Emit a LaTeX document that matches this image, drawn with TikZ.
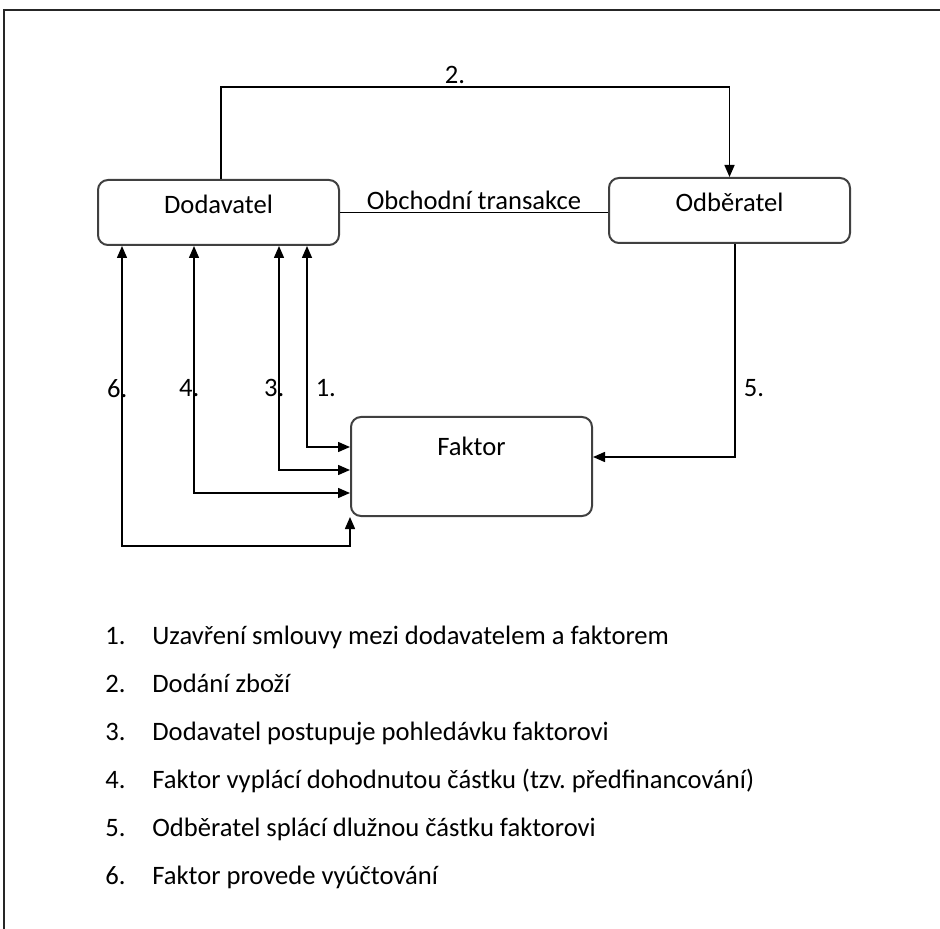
\documentclass[tikz,border=0pt]{standalone}
\usepackage{fontspec}
\setmainfont{Carlito}
\usepackage{tikz}
\usetikzlibrary{arrows.meta}
\frenchspacing

\begin{document}
\begin{tikzpicture}[x=0.5pt, y=-0.5pt, font=\fontsize{13.3pt}{16pt}\selectfont,
	party/.style = {draw=black!75, line width=1pt, rounded corners=5pt, inner sep=0pt,
		minimum width=120.5pt, minimum height=32.5pt, text height=9pt, text depth=8pt},
	flow/.style = {line width=0.75pt, -{Triangle[length=6pt, width=5pt]}},
	both/.style = {line width=0.75pt, {Triangle[length=6pt, width=5pt]}-{Triangle[length=6pt, width=5pt]}},
	numl/.style = {left, inner sep=0pt, xshift=3pt},
	numr/.style = {right, inner sep=1pt, xshift=3pt},
	item/.style = {anchor=base west, inner sep=0pt}]
	\useasboundingbox (0,0) rectangle (940,929);
	\draw [line width=1pt, black!85] (4,929) -- (4,10) -- (940,10);

	\node [party] (dod) at (218.5,212.5) {Dodavatel};
	\node [party] (odb) at (729.5,210.5) {Odběratel};
	\node [party, minimum height=49.5pt, text depth=19.5pt] (fak) at (471.5,466.5) {Faktor};

	\draw [flow] ([xshift=1.25pt]dod.north) -- ++(0pt,46pt) -| node [pos=0.23, above, inner sep=1.5pt] {2.} (odb.north);
	\draw [line width=0.75pt] (dod.east) -- (dod.east -| odb.west) node [midway, above, inner sep=1pt] {Obchodní transakce};

	\draw [both] ([xshift=44.25pt]dod.south) |- node [pos=0.354, numr] {1.} ([yshift=9.75pt]fak.west);
	\draw [both] ([xshift=30.25pt]dod.south) |- node [pos=0.318, numl] {3.} ([yshift=-1.75pt]fak.west);
	\draw [both] ([xshift=-12.25pt]dod.south) |- node [pos=0.288, numl] {4.} ([yshift=-13.25pt]fak.west);
	\coordinate (c6) at ([yshift=-14.5pt]fak.south west);
	\draw [both] ([xshift=-48.25pt]dod.south) |- node [pos=0.238, numl] {6.} (c6) -- (fak.south west);
	\draw [flow] ([xshift=2.75pt]odb.south) |- node [pos=0.338, numr] {5.} ([yshift=4.75pt]fak.east);

	\node [item] (i1) at (105,644.5) {\makebox[23.5pt][l]{1.}Uzavření smlouvy mezi dodavatelem a faktorem};
	\node [item] (i2) at (105,692) {\makebox[23.5pt][l]{2.}Dodání zboží};
	\node [item] (i3) at (105,740) {\makebox[23.5pt][l]{3.}Dodavatel postupuje pohledávku faktorovi};
	\node [item] (i4) at (105,788) {\makebox[23.5pt][l]{4.}Faktor vyplácí dohodnutou částku (tzv. předfinancování)};
	\node [item] (i5) at (105,836) {\makebox[23.5pt][l]{5.}Odběratel splácí dlužnou částku faktorovi};
	\node [item] (i6) at (105,884) {\makebox[23.5pt][l]{6.}Faktor provede vyúčtování};
\end{tikzpicture}
\end{document}
